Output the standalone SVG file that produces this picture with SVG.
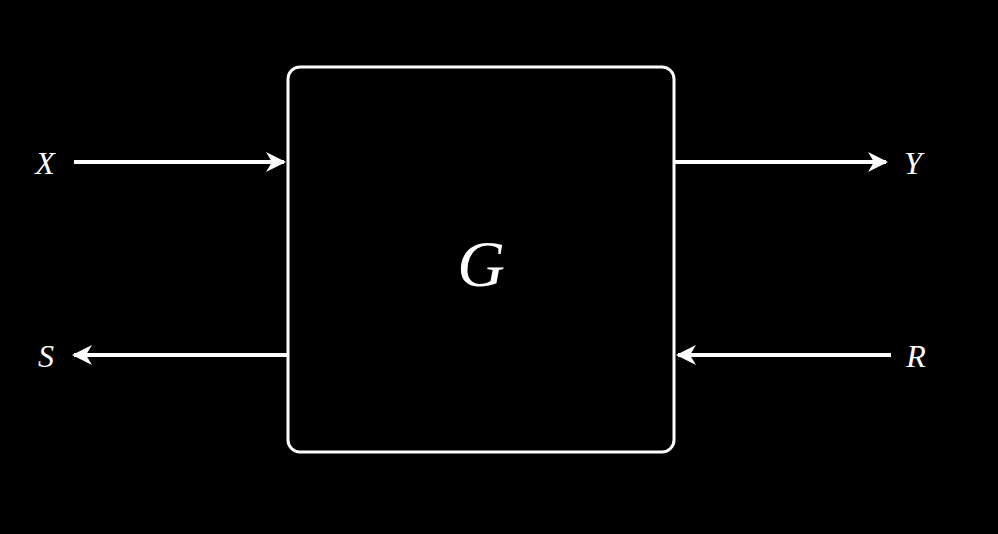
<svg xmlns="http://www.w3.org/2000/svg" width="998" height="534" viewBox="0 0 998 534">
<style>
.l{stroke:#fff;stroke-width:4;fill:none}
.t{fill:#fff;font-family:"Liberation Serif",serif;font-style:italic;font-size:32px;text-anchor:middle}
</style>
<defs><marker id="a" viewBox="0 0 10 10" refX="9" refY="5" markerWidth="5" markerHeight="5" orient="auto" markerUnits="strokeWidth"><path d="M0,0L10,5L0,10L3,5Z" fill="#fff"/></marker></defs>
<rect width="998" height="534" fill="#000"/>
<g id="G"><rect x="288" y="67" width="386" height="385" rx="12" fill="#000" stroke="#fff" stroke-width="3"/><text class="t" x="481" y="286" style="font-size:66px">G</text></g>
<g id="X"><text class="t" x="45" y="174">X</text></g>
<g id="Y"><text class="t" x="913" y="174">Y</text></g>
<g id="S"><text class="t" x="46" y="367">S</text></g>
<g id="R"><text class="t" x="916" y="367">R</text></g>
<g id="connectors">
<line class="l" x1="74" y1="162" x2="284" y2="162" marker-end="url(#a)"/>
<line class="l" x1="675" y1="162" x2="886" y2="162" marker-end="url(#a)"/>
<line class="l" x1="288" y1="355" x2="74" y2="355" marker-end="url(#a)"/>
<line class="l" x1="891" y1="355" x2="678" y2="355" marker-end="url(#a)"/>
</g>
</svg>
